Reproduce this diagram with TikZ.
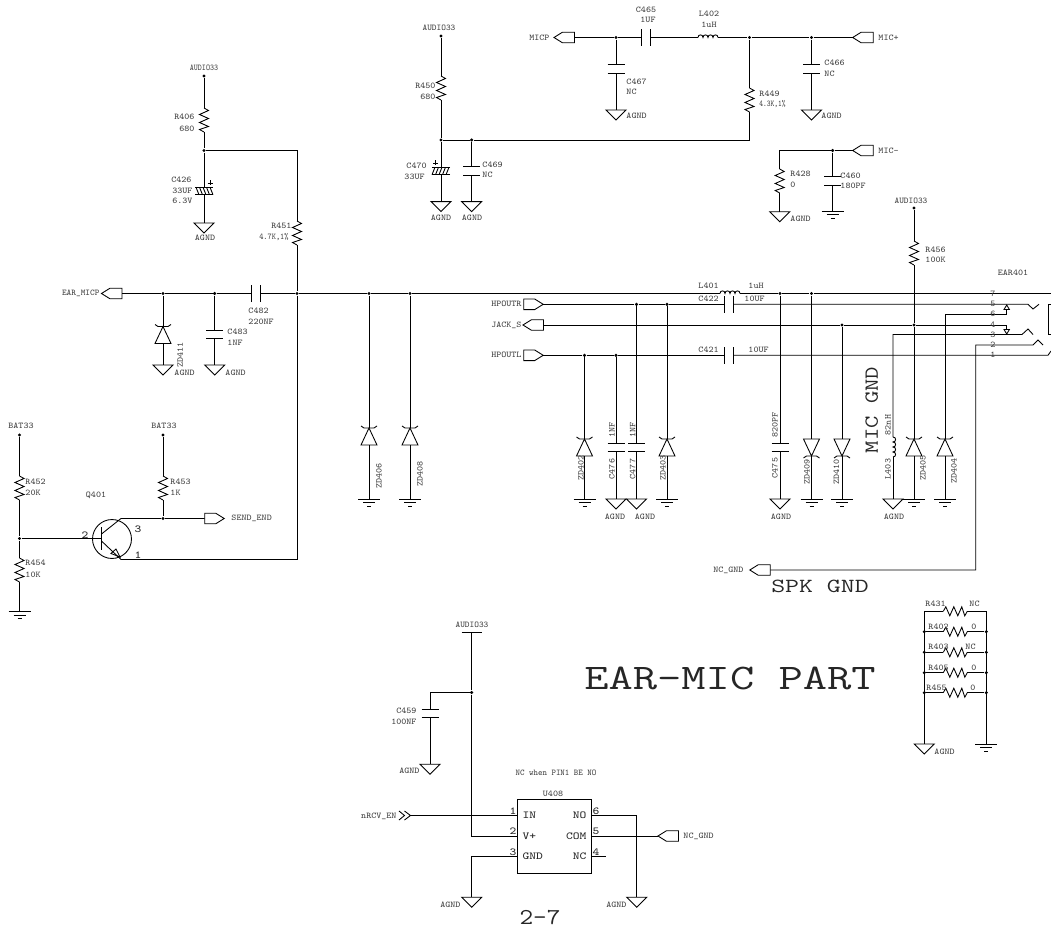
\documentclass[tikz,border=0pt]{standalone}
\usepackage{tikz}
\tikzstyle{schem}=[x=0.75pt, y=-0.75pt, line width=0.65pt, font=\fontsize{6.6}{8}\selectfont\ttfamily]
\tikzstyle{dot}=[circle, inner sep=0pt, minimum size=2.6pt, fill=black]
\tikzstyle{lbl}=[inner sep=0pt, text=black!75, xscale=1.08]
\tikzstyle{lbll}=[lbl, anchor=west]
\tikzstyle{lblr}=[lbl, anchor=east]
\tikzstyle{lblv}=[inner sep=0pt, text=black!75, rotate=90, xscale=1.08]
\tikzstyle{pinfont}=[inner sep=0pt, text=black!85, xscale=1.2, font=\fontsize{8}{9}\selectfont\ttfamily]
\tikzstyle{big}=[inner sep=0pt, text=black!85, font=\fontsize{15}{16}\selectfont\ttfamily]
\tikzstyle{chip}=[rectangle, draw, inner sep=0pt, minimum width=55.7pt, minimum height=55pt]
\tikzset{
	resv/.pic={
		\draw (0,-12) -- (4.5,-9.5) -- (-4.5,-5.5) -- (4.5,-1.5) -- (-4.5,2.5) -- (4.5,6.5) -- (-4.5,9.5) -- (0,12);
		\coordinate (-a) at (0,-12);
		\coordinate (-b) at (0,12);
	},
	capv/.pic={
		\draw (-8.5,-4.3) -- (8.5,-4.3) (-8.5,4.3) -- (8.5,4.3);
		\coordinate (-a) at (0,-4.3);
		\coordinate (-b) at (0,4.3);
	},
	polarcap/.pic={
		\draw (-9,-3.7) -- (9,-3.7) (-9,3.7) -- (9,3.7);
		\foreach \k in {-8,-4.5,-1,2.5,6} \draw (\k,-3.7) -- (\k+3,3.7);
		\draw (6,-10.5) -- (6,-5.5) (3.5,-8) -- (8.5,-8);
		\coordinate (-a) at (0,-3.7);
		\coordinate (-b) at (0,3.7);
	},
	coil/.pic={
		\draw (-10,0) .. controls (-10,-3.5) and (-5,-3.5) .. (-5,0) .. controls (-5,-3.5) and (0,-3.5) .. (0,0) .. controls (0,-3.5) and (5,-3.5) .. (5,0) .. controls (5,-3.5) and (10,-3.5) .. (10,0);
		\coordinate (-a) at (-10,0);
		\coordinate (-b) at (10,0);
	},
	zener/.pic={
		\draw (0,-8.5) -- (8,8.5) -- (-8,8.5) -- cycle;
		\draw (-8,-10.5) -- (-5,-8.5) -- (5,-8.5) -- (8,-10.5);
		\coordinate (-a) at (0,-8.5);
		\coordinate (-b) at (0,8.5);
	},
	agnd/.pic={
		\draw (-10,0) -- (10,0) -- (0,10) -- cycle;
		\coordinate (-a) at (0,0);
	},
	gnd/.pic={
		\draw (-11,0) -- (11,0) (-6,3.5) -- (6,3.5) (-2,7) -- (2,7);
		\coordinate (-a) at (0,0);
	},
	portl/.pic={
		\draw (0,0) -- (8.5,-5.3) -- (20.5,-5.3) -- (20.5,5.3) -- (8.5,5.3) -- cycle;
		\coordinate (-a) at (20.5,0);
		\coordinate (-b) at (0,0);
	},
	portr/.pic={
		\draw (0,-5.3) -- (11,-5.3) -- (19.5,0) -- (11,5.3) -- (0,5.3) -- cycle;
		\coordinate (-a) at (0,0);
		\coordinate (-b) at (19.5,0);
	},
	contact/.pic={
		\draw (0,0) -- (2.7,4.5) -- (-2.7,4.5) -- cycle;
		\coordinate (-a) at (0,4.5);
	}
}
\begin{document}
\begin{tikzpicture}[schem]
	\useasboundingbox (0,0) rectangle (1051,931);
	\foreach \n/\x/\y in {vAudL/204/76, jA/204/150.5, j163/163/293.5, j215/214.7/293.5, jMic/297/293.5, j369/369/293.5, j410/410/293.5,
		vBatL/19.5/435, vBatR/163/435, jBase/19.5/538.5, jCol/163/518.5, vAudM/441/36, jM1/441/140, jM2/471.7/140,
		jTop1/616/37.5, jTop2/749.5/37.5, jTop3/811.5/37.5, jMicm/832.7/150.5, vAudR/914/208,
		jHr1/636.5/304.3, jHr2/667/304.3, jHl1/584.5/355.3, jHl2/616/355.3, j780/780/293.5, j811/811.5/293.5,
		j842/842/325, j914/914/325, jU/471.7/692.5,
		jB2l/924.3/631.7, jB3l/924.3/652.3, jB4l/924.3/672.7, jB5l/924.3/692.7,
		jB2r/986.3/631.7, jB3r/986.3/652.3, jB4r/986.3/672.7, jB5r/986.3/692.7}
		\draw (\x,\y) node[dot] (\n) {};
	\foreach \n/\x/\y in {R406/204/120, R451/297/233, R452/19.5/488, R453/163/488, R454/19.5/570, R450/441/88,
		R449/749.5/100, R428/779.7/181, R456/914/253}
		\pic (\n) at (\x,\y) {resv};
	\foreach \n/\x/\y in {R431/955.3/611.3, R402/955.3/631.7, R403/955.3/652.3, R405/955.3/672.7, R455/955.3/692.7}
		\pic[rotate=90] (\n) at (\x,\y) {resv};
	\foreach \n/\x/\y in {C483/214.7/334.5, C467/616/69, C466/811.5/69, C469/471.7/171, C460/832.7/181, C476/616/447.5,
		C477/636.5/447.5, C475/780/447.5, C459/430/713.3}
		\pic (\n) at (\x,\y) {capv};
	\foreach \n/\x/\y in {C482/256.2/293.5, C465/646/37.5, C422/728.8/304.3, C421/728.8/355.3}
		\pic[rotate=90] (\n) at (\x,\y) {capv};
	\pic (C426) at (204,191) {polarcap};
	\pic[xscale=-1] (C470) at (441,171) {polarcap};
	\pic (L402) at (708,37.5) {coil};
	\pic (L401) at (730,293.5) {coil};
	\pic[rotate=-90] (L403) at (893,447) {coil};
	\foreach \n/\x/\y in {ZD411/163/335, ZD406/369/436.5, ZD408/410/436.5, ZD402/584.5/447.5, ZD403/667/447.5,
		ZD405/914/447.5, ZD404/945/447.5}
		\pic (\n) at (\x,\y) {zener};
	\foreach \n/\x/\y in {ZD409/811.5/447.5, ZD410/842/447.5}
		\pic[rotate=180] (\n) at (\x,\y) {zener};
	\foreach \n/\x/\y in {gA/204/223, gB/163/365, gC/214.7/365, gD/441/201.6, gE/471.7/201.6, gF/616/110, gG/811.5/110,
		gH/779.7/211.7, gI/616/499, gJ/636.5/499, gK/780/499, gL/893/499, gM/430/764.3, gN/471.7/897.3, gO/636.7/897.3, gP/924.3/744}
		\pic (\n) at (\x,\y) {agnd};
	\foreach \n/\x/\y in {eA/19.5/611.5, eB/369/499, eC/410/499, eD/832.7/211.3, eE/584.5/499, eF/667/499, eG/811.5/499,
		eH/842/499, eI/914/499, eJ/945/499, eK/986.3/744}
		\pic (\n) at (\x,\y) {gnd};
	\pic (pEarMic) at (101.5,293.5) {portl};
	\pic (pMicp) at (554,37.5) {portl};
	\pic (pMicP) at (852.7,37.5) {portl};
	\pic (pMicM) at (852.7,150.5) {portl};
	\pic (pJack) at (523,325) {portl};
	\pic (pNcGnd) at (749.8,570) {portl};
	\pic (pNcGndB) at (658,836) {portl};
	\pic (pSend) at (204.7,518.5) {portr};
	\pic (pHpR) at (523.7,304.3) {portr};
	\pic (pHpL) at (523.7,355.3) {portr};
	\pic (K6) at (1006.7,305) {contact};
	\pic[rotate=180] (K4) at (1006.7,334) {contact};
	\draw (554.15,836.35) node[chip] (U408) {};
	\draw (112,539) node[circle, draw, inner sep=0pt, minimum size=29.2pt] (Q401) {};
	\draw (101.5,527) coordinate (qB1);
	\draw (101.5,550) coordinate (qB2);
	\draw (101.5,538.5) coordinate (qB);
	\draw (101.5,534) coordinate (qC0);
	\draw (101.5,541) coordinate (qE0);
	\draw (116,549) coordinate (qT1);
	\draw (111,553.5) coordinate (qT2);
	\draw (120,557) coordinate (qT3);
	\draw (121,518.5) coordinate (qC);
	\draw (121,559.5) coordinate (qE);
	\draw (297,559.5) coordinate (qE1);
	\draw (461.7,632) coordinate (barL);
	\draw (481.7,632) coordinate (barR);
	\draw (471.7,632) coordinate (barC);
	\draw (471.7,836) coordinate (cV);
	\draw (517,815.5) coordinate (u1);
	\draw (517,836) coordinate (u2);
	\draw (517,856.7) coordinate (u3);
	\draw (591.3,815.5) coordinate (u6);
	\draw (591.3,836) coordinate (u5);
	\draw (591.3,856.7) coordinate (u4);
	\draw (606,856.7) coordinate (u4e);
	\draw (636.7,815.5) coordinate (u6c);
	\draw (471.7,856.7) coordinate (u3c);
	\draw (399,811) coordinate (nA1);
	\draw (404.5,815.5) coordinate (nA2);
	\draw (399,820) coordinate (nA3);
	\draw (404.5,811) coordinate (nB1);
	\draw (410.5,815.5) coordinate (nRcv);
	\draw (404.5,820) coordinate (nB3);
	\draw (1051,293.5) coordinate (e7);
	\draw (1028,304.3) coordinate (c5a);
	\draw (1033,309) coordinate (c5b);
	\draw (1039,304.3) coordinate (c5c);
	\draw (945,314) coordinate (c6a);
	\draw (1006.7,314) coordinate (c6b);
	\draw (1006.7,325) coordinate (c4a);
	\draw (893,334.5) coordinate (c3a);
	\draw (1022,334.5) coordinate (c3b);
	\draw (1028,329) coordinate (c3c);
	\draw (1033,334.5) coordinate (c3d);
	\draw (975.7,570) coordinate (c2a);
	\draw (975.7,345) coordinate (c2b);
	\draw (1033,345) coordinate (c2c);
	\draw (1038,340) coordinate (c2d);
	\draw (1043,345) coordinate (c2e);
	\draw (1048,355.3) coordinate (c1a);
	\draw (1051,351) coordinate (c1b);
	\draw (1051,304.3) coordinate (bx1);
	\draw (1048,304.3) coordinate (bx2);
	\draw (1048,334.5) coordinate (bx3);
	\draw (1051,334.5) coordinate (bx4);
	\draw (vAudL) -- (R406-a);
	\draw (R406-b) -- (jA) -- (C426-a);
	\draw (C426-b) -- (gA-a);
	\draw (jA) -| (R451-a);
	\draw (R451-b) -- (jMic) -- (qE1) -- (qE);
	\draw (pEarMic-a) -- (j163) -- (j215) -- (C482-a);
	\draw (C482-b) -- (jMic) -- (j369) -- (j410) -- (L401-a);
	\draw (L401-b) -- (j780) -- (j811) -- (e7);
	\draw (j163) -- (ZD411-a);
	\draw (ZD411-b) -- (gB-a);
	\draw (j215) -- (C483-a);
	\draw (C483-b) -- (gC-a);
	\draw (vBatL) -- (R452-a);
	\draw (R452-b) -- (jBase) -- (R454-a);
	\draw (R454-b) -- (eA-a);
	\draw (vBatR) -- (R453-a);
	\draw (R453-b) -- (jCol);
	\draw (jBase) -- (qB);
	\draw (qB1) -- (qB2);
	\draw (qC0) -- (qC) -- (jCol) -- (pSend-a);
	\draw (qE0) -- (qE);
	\draw (qT1) -- (qT2) -- (qT3) -- cycle;
	\draw (j369) -- (ZD406-a);
	\draw (ZD406-b) -- (eB-a);
	\draw (j410) -- (ZD408-a);
	\draw (ZD408-b) -- (eC-a);
	\draw (vAudM) -- (R450-a);
	\draw (R450-b) -- (jM1) -- (C470-a);
	\draw (C470-b) -- (gD-a);
	\draw (jM1) -- (jM2) -| (R449-b);
	\draw (jM2) -- (C469-a);
	\draw (C469-b) -- (gE-a);
	\draw (pMicp-a) -- (jTop1) -- (C465-a);
	\draw (C465-b) -- (L402-a);
	\draw (L402-b) -- (jTop2) -- (jTop3) -- (pMicP-b);
	\draw (jTop1) -- (C467-a);
	\draw (C467-b) -- (gF-a);
	\draw (jTop2) -- (R449-a);
	\draw (jTop3) -- (C466-a);
	\draw (C466-b) -- (gG-a);
	\draw (pMicM-b) -- (jMicm) -| (R428-a);
	\draw (R428-b) -- (gH-a);
	\draw (jMicm) -- (C460-a);
	\draw (C460-b) -- (eD-a);
	\draw (pHpR-b) -- (jHr1) -- (jHr2) -- (C422-a);
	\draw (C422-b) -- (c5a) -- (c5b) -- (c5c);
	\draw (pJack-a) -- (j842) -- (j914) -- (c4a) -- (K4-a);
	\draw (pHpL-b) -- (jHl1) -- (jHl2) -- (C421-a);
	\draw (C421-b) -- (c1a) -- (c1b);
	\draw (jHl1) -- (ZD402-a);
	\draw (ZD402-b) -- (eE-a);
	\draw (jHl2) -- (C476-a);
	\draw (C476-b) -- (gI-a);
	\draw (jHr1) -- (C477-a);
	\draw (C477-b) -- (gJ-a);
	\draw (jHr2) -- (ZD403-a);
	\draw (ZD403-b) -- (eF-a);
	\draw (j780) -- (C475-a);
	\draw (C475-b) -- (gK-a);
	\draw (j811) -- (ZD409-b);
	\draw (ZD409-a) -- (eG-a);
	\draw (j842) -- (ZD410-b);
	\draw (ZD410-a) -- (eH-a);
	\draw (vAudR) -- (R456-a);
	\draw (R456-b) -- (j914) -- (ZD405-a);
	\draw (ZD405-b) -- (eI-a);
	\draw (L403-a) -- (c3a) -- (c3b) -- (c3c) -- (c3d);
	\draw (L403-b) -- (gL-a);
	\draw (ZD404-b) -- (eJ-a);
	\draw (ZD404-a) -- (c6a) -- (c6b) -- (K6-a);
	\draw (pNcGnd-a) -- (c2a) -- (c2b) -- (c2c) -- (c2d) -- (c2e);
	\draw (bx1) -- (bx2) -- (bx3) -- (bx4);
	\draw (barL) -- (barR);
	\draw (barC) -- (jU) -- (cV) -- (u2);
	\draw (jU) -| (C459-a);
	\draw (C459-b) -- (gM-a);
	\draw (nA1) -- (nA2) -- (nA3) (nB1) -- (nRcv) -- (nB3);
	\draw (nRcv) -- (u1);
	\draw (u3) -- (u3c) -- (gN-a);
	\draw (u6) -- (u6c) -- (gO-a);
	\draw (u5) -- (pNcGndB-b);
	\draw (u4) -- (u4e);
	\draw (R431-a) -| (gP-a);
	\draw (R431-b) -| (eK-a);
	\foreach \n/\m in {R402/jB2, R403/jB3, R405/jB4, R455/jB5} {
		\draw (\m l) -- (\n-a);
		\draw (\n-b) -- (\m r);
	}
	\foreach \n/\x/\y/\s in {tC483/227/332/C483, tC483v/227/343/1NF, tZ1/174/373/AGND, tC1/225/373/AGND,
		tR452/25/482/R452, tR452v/25/493/20K, tR454/25/563/R454, tR454v/25/575/10K, tR453/170/482/R453, tR453v/170/493/1K,
		tSend/231/518.5/SEND\_END, tC482/248/311/C482, tC482v/248/322/220NF, tC469/482/165/C469, tC469v/482/175/NC,
		tC467/626/82/C467, tC467v/626/92/NC, tC2/626/116/AGND, tR449/759/94/R449,
		tC466/824/63/C466, tC466v/824/74/NC, tC3/821/116/AGND, tMicP/878/37.5/MIC+, tMicM/878/150.5/MIC-,
		tR428/790/174/R428, tR428v/790/185/0, tC460/840/176/C460, tC460v/840/186/180PF, tC4/790/219/AGND,
		tC470/406/166/C470, tC470v/404/177/33UF, tR456/925/250/R456, tR456v/925/260/100K, tNcB/683/836/NC\_GND, tC5/934/752/AGND,
		tR431/925/604/R431, tR431v/969/604/NC, tR402/928/627/R402, tR402v/971/627/0, tR403/928/647/R403, tR403v/965/647/NC,
		tR405/928/668/R405, tR405v/971/668/0, tR455/926/688/R455, tR455v/970/688/0,
		tC422/698/299/C422, tC422v/744/299/10UF, tL401/698/285.5/L401, tL401v/748/285.5/1uH, tC421/698/350/C421, tC421v/748/350/10UF}
		\draw (\x,\y) node[lbll] (\n) {\s};
	\foreach \n/\x/\y/\s in {tR406/195/117/R406, tR406v/195/129/680, tC426/192/180/C426, tC426v/193/191/33UF,
		tC426w/193/201/6.3V, tR451/292/226/R451, tR450/436/86/R450, tR450v/436/97/680,
		tMicp/550/37.5/MICP, tHpR/522/304.3/HPOUTR, tJack/522/325/JACK\_S, tHpL/522/355.3/HPOUTL, tNc/744/570/NC\_GND,
		tRcv/397/816/nRCV\_EN, tC459/417/711/C459, tC459v/417/722/100NF, tG1/420/771/AGND, tG2/461/905/AGND, tG3/627/905/AGND}
		\draw (\x,\y) node[lblr] (\n) {\s};
	\foreach \n/\x/\y/\s in {tB1/21/426/BAT33, tB2/164/426/BAT33,
		tQ401/96/495/Q401, tD1/205/238/AGND, tD2/441/218/AGND, tD3/472/218/AGND, tC465/646/10/C465, tC465v/648/20/1UF,
		tL402/709/14/L402, tL402v/709/25/1uH, tD4/781/517/AGND, tD5/894/517/AGND, tD6/615/517/AGND, tD7/645/517/AGND,
		tEar401/1013/273/EAR401, tU408/553/794/U408,
		tP7/993/293.5/7, tP5/993/304/5, tP6/993/314/6, tP4/993/325/4, tP3/993/334.5/3, tP2/993/345/2, tP1/993/355/1}
		\draw (\x,\y) node[lbl] (\n) {\s};
	\foreach \n/\x/\y in {tA2/439/28, tA3/911/201, tA4/472/625}
		\draw (\x,\y) node[lbl, xscale=0.93] (\n) {AUDIO33};
	\draw (204,68) node[lbl, xscale=0.8] (tA1) {AUDIO33};
	\draw (556,772.5) node[lbl, xscale=0.89] (tNote) {NC when PIN1 BE NO};
	\draw (100,293.5) node[lblr, xscale=0.93] (tEar) {EAR\_MICP};
	\draw (289,237) node[lblr, xscale=0.83] (tR451v) {4.7K,1\%};
	\draw (759,104) node[lbll, xscale=0.74] (tR449v) {4.3K,1\%};
	\foreach \n/\x/\y/\s in {tZD411/180/355/ZD411, tZD406/379/476/ZD406, tZD408/420/474/ZD408, tZD402/581/468/ZD402, tZD403/663/468/ZD403,
		tC476/612/469/C476, tC476v/612/430/1NF, tC477/632.7/469/C477, tC477v/632.7/430/1NF, tC475/775/468/C475, tC475v/775/425/820PF,
		tZD409/807/472/ZD409, tZD410/836.5/472/ZD410, tL403/888/469/L403, tL403v/888/425/82nH, tZD405/923/468/ZD405, tZD404/954/471/ZD404}
		\draw (\x,\y) node[lblv] (\n) {\s};
	\foreach \n/\x/\y/\s in {tQ2/85/535/2, tQ3/138/529/3, tQ1/138/555/1, tU1/513/811/1, tU2/513/831/2, tU3/513/852/3,
		tU6/596/811/6, tU5/596/831/5, tU4/596/852/4}
		\draw (\x,\y) node[pinfont] (\n) {\s};
	\foreach \n/\y/\s in {tIN/815.5/IN, tVp/836/V+, tGND/856.7/GND}
		\draw (522,\y) node[pinfont, anchor=west] (\n) {\s};
	\foreach \n/\y/\s in {tNO/815.5/NO, tCOM/836/COM, tNC/856.7/NC}
		\draw (587,\y) node[pinfont, anchor=east] (\n) {\s};
	\draw (871.7,410) node[big, rotate=90, xscale=1.2] (tMicGnd) {MIC GND};
	\draw (820,586) node[big, xscale=1.35] (tSpkGnd) {SPK GND};
	\draw (730,678) node[big, font=\fontsize{27}{30}\selectfont\ttfamily, xscale=1.31] (tTitle) {EAR-MIC PART};
	\draw (540,918) node[big, font=\fontsize{17}{18}\selectfont\ttfamily, xscale=1.17] (tPage) {2-7};
\end{tikzpicture}
\end{document}
